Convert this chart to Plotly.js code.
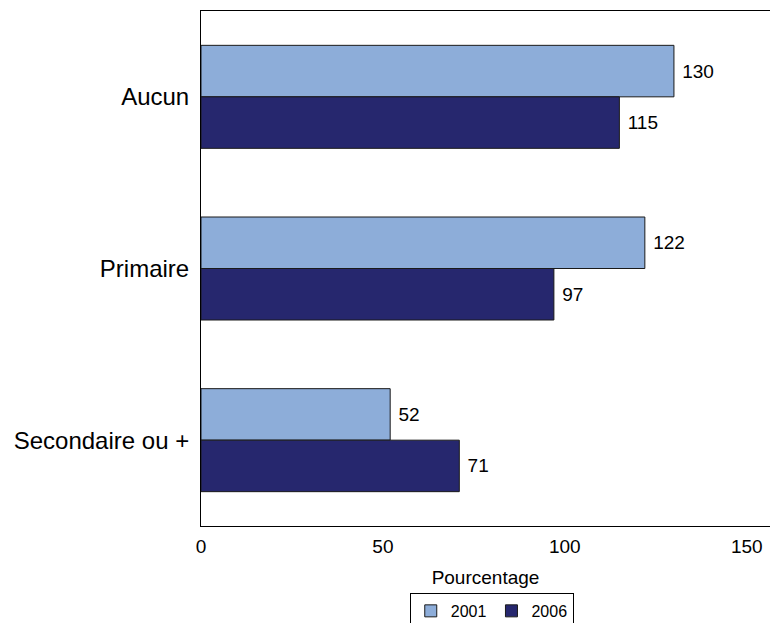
<!DOCTYPE html>
<html>
<head>
<meta charset="utf-8">
<script src="https://cdn.plot.ly/plotly-3.0.1.min.js"></script>
<style>html,body{margin:0;padding:0;background:#fff;}</style>
</head>
<body>
<div id="chart" style="width:770px;height:623px;"></div>
<script>
const categories = ["Aucun", "Primaire", "Secondaire ou +"];
const values2001 = [130, 122, 52];
const values2006 = [115, 97, 71];
const seriesNames = ["2001", "2006"];
const xTickVals = [0, 50, 100, 150];

const font = "Liberation Sans, Arial, sans-serif";

const traces = [
  {
    type: "bar", orientation: "h", name: seriesNames[0],
    y: categories, x: values2001,
    marker: {color: "#8DADD9", line: {color: "#1a1a1a", width: 1}},
    texttemplate: " %{x}", textposition: "outside",
    textfont: {family: font, size: 19, color: "#000"},
    cliponaxis: false, hoverinfo: "x"
  },
  {
    type: "bar", orientation: "h", name: seriesNames[1],
    y: categories, x: values2006,
    marker: {color: "#26276E", line: {color: "#1a1a1a", width: 1}},
    texttemplate: " %{x}", textposition: "outside",
    textfont: {family: font, size: 19, color: "#000"},
    cliponaxis: false, hoverinfo: "x"
  }
];

const layout = {
  width: 770, height: 623,
  margin: {l: 201, r: 0, t: 11, b: 97, autoexpand: false},
  paper_bgcolor: "#fff", plot_bgcolor: "#fff",
  font: {family: font, color: "#000"},
  barmode: "group", bargap: 0.4, bargroupgap: 0,
  showlegend: true,
  legend: {
    orientation: "h", x: 0.511, xanchor: "center", y: -0.13, yanchor: "top",
    bordercolor: "#000", borderwidth: 1,
    font: {family: font, size: 16, color: "#000"},
    itemwidth: 30, tracegroupgap: 0
  },
  xaxis: {
    range: [0, 156.4], tickvals: xTickVals, ticktext: xTickVals.map(String),
    showgrid: false, zeroline: false,
    showline: true, linecolor: "#000", linewidth: 1, mirror: true,
    ticks: "", ticklabelstandoff: 3, tickfont: {family: font, size: 19, color: "#000"},
    title: {text: "Pourcentage", font: {family: font, size: 19, color: "#000"}, standoff: 14}
  },
  yaxis: {
    type: "category", categoryorder: "array", categoryarray: categories,
    autorange: "reversed",
    showgrid: false, zeroline: false,
    showline: true, linecolor: "#000", linewidth: 1,
    ticks: "", ticklen: 0, ticklabelstandoff: 6,
    tickfont: {family: font, size: 24, color: "#000"}
  }
};

Plotly.newPlot("chart", traces, layout, {displayModeBar: false, staticPlot: true});
</script>
</body>
</html>
